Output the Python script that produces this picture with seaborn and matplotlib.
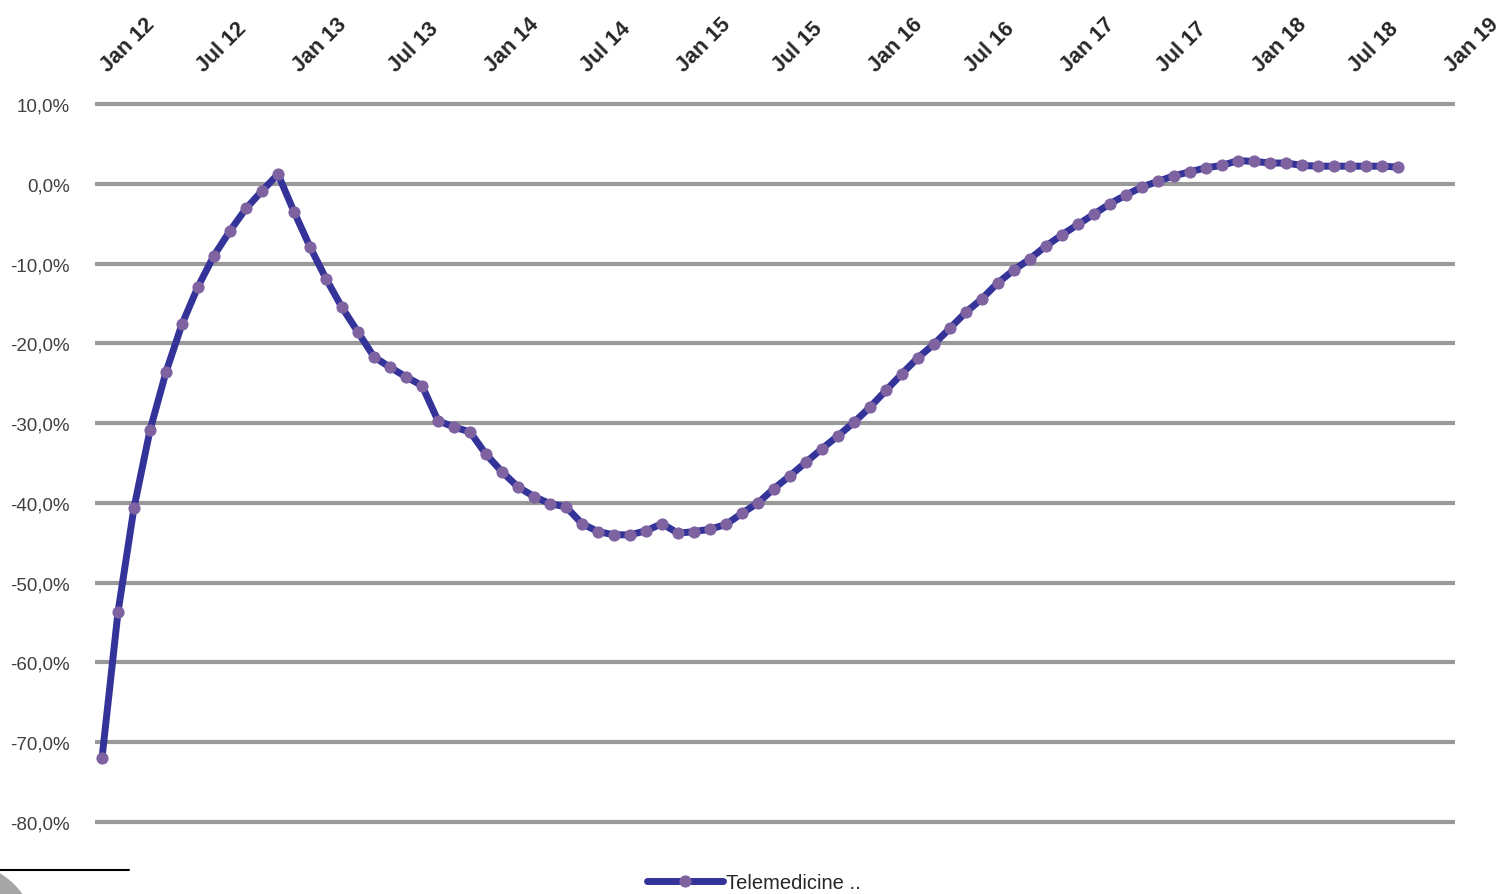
import numpy as np
import pandas as pd
import seaborn as sns
import matplotlib
matplotlib.use("Agg")
import matplotlib.pyplot as plt
import matplotlib.transforms as mtransforms
from matplotlib.lines import Line2D
from matplotlib.patches import Circle

# Monthly change, Jan 2012 - Oct 2018 (percent)
series_name = "Telemedicine .."
values = [
    -72.0, -53.7, -40.6, -30.9, -23.6, -17.6, -12.9, -9.0, -5.9, -3.1, -0.9, 1.2,
    -3.5, -7.9, -11.9, -15.5, -18.6, -21.7, -23.0, -24.2, -25.3, -29.7, -30.5, -31.1,
    -33.9, -36.1, -38.0, -39.2, -40.1, -40.5, -42.6, -43.6, -44.0, -44.0, -43.5, -42.6,
    -43.8, -43.6, -43.3, -42.7, -41.3, -40.0, -38.2, -36.6, -34.9, -33.2, -31.6, -29.9,
    -28.0, -25.9, -23.8, -21.8, -20.1, -18.1, -16.1, -14.4, -12.4, -10.8, -9.4, -7.8,
    -6.4, -5.1, -3.8, -2.5, -1.4, -0.4, 0.3, 1.0, 1.5, 2.0, 2.3, 2.9,
    2.8, 2.6, 2.6, 2.3, 2.2, 2.2, 2.2, 2.2, 2.2, 2.1,
]
month_index = list(range(len(values)))

x_tick_pos = list(range(0, 85, 6))
x_tick_labels = ["Jan 12", "Jul 12", "Jan 13", "Jul 13", "Jan 14", "Jul 14", "Jan 15",
                 "Jul 15", "Jan 16", "Jul 16", "Jan 17", "Jul 17", "Jan 18", "Jul 18",
                 "Jan 19"]
y_ticks = [10, 0, -10, -20, -30, -40, -50, -60, -70, -80]
y_tick_labels = ["10,0%", "0,0%", "-10,0%", "-20,0%", "-30,0%", "-40,0%", "-50,0%",
                 "-60,0%", "-70,0%", "-80,0%"]

df = pd.DataFrame({"month": month_index, "value": values, "series": series_name})

sns.set_style("white")
plt.rcParams["font.family"] = ["Liberation Sans", "DejaVu Sans"]

W, H, DPI = 1504, 895, 100
fig = plt.figure(figsize=(W / DPI, H / DPI), dpi=DPI)

# axes box in pixels
left_px, right_px = 95, 1455
top_px, bottom_px = 97, 831
ax = fig.add_axes([left_px / W, 1 - bottom_px / H,
                   (right_px - left_px) / W, (bottom_px - top_px) / H])

line_color = "#333399"
marker_color = "#7f63a1"
grid_color = "#999999"

sns.lineplot(data=df, x="month", y="value", ax=ax, color=line_color,
             linewidth=5, marker="o", markersize=8,
             markerfacecolor=marker_color, markeredgecolor=marker_color,
             label=series_name, zorder=3)
for ln in ax.get_lines():
    ln.set_solid_capstyle("round")
    ln.set_solid_joinstyle("round")

ax.set_xlim(-7 / 16, (right_px - 102) / 16)
ax.set_ylim(-81, 11)

for v in y_ticks:
    ax.axhline(v, color=grid_color, linewidth=3, solid_capstyle="round", zorder=1)

for s in ax.spines.values():
    s.set_visible(False)

ax.set_yticks(y_ticks)
ax.set_yticklabels(y_tick_labels)
ax.tick_params(axis="y", length=0, pad=18, labelsize=13.5, labelcolor="#404040")

ax.xaxis.tick_top()
ax.set_xticks(x_tick_pos)
ax.set_xticklabels(x_tick_labels, rotation=45, ha="left", va="bottom",
                   rotation_mode="anchor", fontweight="bold")
ax.tick_params(axis="x", length=0, pad=15, labelsize=15.5, labelcolor="#262626")
shift = mtransforms.ScaledTranslation(10 / DPI, 0, fig.dpi_scale_trans)
for lbl in ax.get_xticklabels():
    lbl.set_transform(lbl.get_transform() + shift)
ax.set_xlabel("")
ax.set_ylabel("")

leg = ax.legend(loc="center", bbox_to_anchor=(754 / W, 1 - 884 / H),
                bbox_transform=fig.transFigure, frameon=False, fontsize=14.5,
                handlelength=3.8, handletextpad=0.15, borderpad=0, numpoints=1,
                labelcolor="#262626")

# page decorations at the lower-left corner
fig.add_artist(Line2D([0, 129 / W], [1 - 871 / H, 1 - 871 / H],
                      color="black", linewidth=1.5))
fig.add_artist(Circle((-0.40, -0.45), 0.77, transform=fig.dpi_scale_trans,
                      facecolor="#a6a6a6", edgecolor="none"))

fig.savefig("out.png", dpi=DPI)
